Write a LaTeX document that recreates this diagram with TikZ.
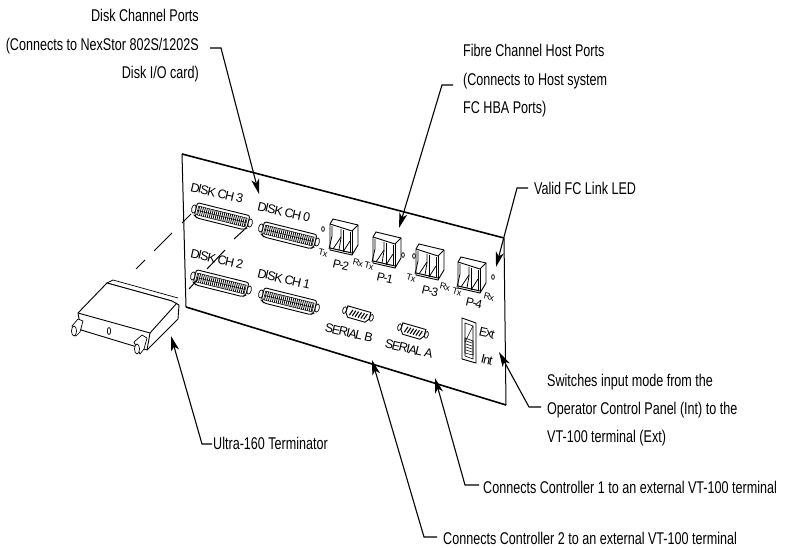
\documentclass[tikz,border=0pt]{standalone}
\usepackage{fontspec}
\setmainfont{Liberation Sans}[FakeStretch=0.74]
\newfontfamily\plainfont{Liberation Sans}[LetterSpace=-10]
\usetikzlibrary{arrows.meta}
\tikzset{
  lbl/.style={inner sep=0pt,font=\fontsize{17}{28.4}\selectfont},
  plbl/.style={inner sep=0pt,rotate=-13,font=\plainfont\fontsize{12.5}{16}\selectfont},
  portlbl/.style={plbl,font=\plainfont\fontsize{12}{15}\selectfont},
  tiny/.style={plbl,font=\plainfont\fontsize{9}{12}\selectfont},
  leader/.style={line width=1.1pt,-{Stealth[length=15pt,width=8pt,inset=4pt]}},
  edge/.style={line width=1.6pt},
  part/.style={line width=0.7pt,fill=white},
  dashline/.style={line width=1pt},
  scsi/.pic={
    \draw[part] (-29,0) ellipse (2.2 and 4.2);
    \draw[part] (29,0) ellipse (2.2 and 4.2);
    \draw[part,rounded corners=2pt,line width=0.9pt] (-27,-7) -- (27,-7) -- (27,6) -- (24,8) -- (-24,8) -- (-27,6) -- cycle;
    \draw[line width=0.5pt] (-25,-4) rectangle (25,5);
    \foreach \i in {-24,-22,...,24} \draw[line width=0.75pt] (\i,-4) -- (\i,5);
    \draw[line width=0.5pt] (-25,0.5) -- (25,0.5);
  },
  lcport/.pic={
    \draw[part,line width=0.9pt] (0,0) -- (3,-5) -- (28,1) -- (28,21) -- (22,31) -- (0,26) -- cycle;
    \draw[line width=0.9pt] (0,0) -- (22,7) -- (28,1);
    \draw[line width=1pt] (22,7) -- (22,31);
    \draw[line width=0.8pt] (-1,25) -- (2,12) -- (2,2);
    \draw[line width=0.8pt] (9,26) -- (11,14) -- (11,5);
    \draw[line width=0.8pt] (13,28) -- (13,6);
    \draw[line width=0.8pt] (20,29) -- (20,8);
    \draw[line width=0.8pt] (3,25) -- (11,13) (13,28) -- (20,17);
    \draw[line width=1pt] (0,24) -- (22,29);
  },
  dsub/.pic={
    \draw[part] (-14,0) ellipse (1.8 and 3.5);
    \draw[part] (14,0) ellipse (1.8 and 3.5);
    \draw[part,line width=0.9pt] (-12,-5) -- (12,-5) -- (12,2) -- (9,6) -- (-9,6) -- (-12,2) -- cycle;
    \foreach \i in {-7,-4,...,8} \draw[line width=1.1pt] (\i+1,-2.5) -- (\i-1,3.5);
  }
}
\begin{document}
\begin{tikzpicture}[x=1pt,y=-1pt]
\useasboundingbox (0,0) rectangle (785,548);
% rear panel
\draw[edge] (504,238) -- (182,154);
\draw[line width=1pt] (182,154) -- (186,307);
\draw[edge] (186,307) -- (506,405);
\draw[line width=1pt] (506,405) -- (504,238);
% disk connectors
\pic[rotate=-14] at (222,216) {scsi};
\pic[rotate=-14] at (289,235) {scsi};
\pic[rotate=-14] at (221,283) {scsi};
\pic[rotate=-14] at (289,301) {scsi};
\node[plbl] (ch3) at (217,193) {DISK CH 3};
\node[plbl] (ch0) at (284,212) {DISK CH 0};
\node[plbl] (ch2) at (217,259) {DISK CH 2};
\node[plbl] (ch1) at (284,279) {DISK CH 1};
% host ports
\pic at (330,224) {lcport};
\pic at (373,237) {lcport};
\pic at (416,249) {lcport};
\pic at (458,262) {lcport};
\node[portlbl] (p2) at (341,265) {P-2};
\node[portlbl] (p1) at (385,278) {P-1};
\node[portlbl] (p3) at (430,291) {P-3};
\node[portlbl] (p4) at (474,303) {P-4};
\node[tiny] (tx2) at (323,253) {Tx};
\node[tiny] (rx2) at (358,263) {Rx};
\node[tiny] (tx1) at (369,266) {Tx};
\node[tiny] (tx3) at (411,278) {Tx};
\node[tiny] (rx3) at (445,287) {Rx};
\node[tiny] (tx4) at (457,292) {Tx};
\node[tiny] (rx4) at (489,297) {Rx};
% leds
\draw[line width=0.7pt] (323,229) ellipse (1.4 and 2.4);
\draw[line width=0.7pt] (403,255) ellipse (1.4 and 2.4);
\draw[line width=0.7pt] (414,256) ellipse (1.4 and 2.4);
\draw[line width=0.7pt] (493,277) ellipse (1.4 and 2.4);
% serial ports
\pic[rotate=-16] at (358,314) {dsub};
\pic[rotate=-16] at (413,331) {dsub};
\node[plbl] (serb) at (349,333) {SERIAL B};
\node[plbl] (sera) at (409,349) {SERIAL A};
% mode switch
\draw[line width=0.9pt] (462,318) -- (476,323) -- (476,363) -- (462,359) -- cycle;
\draw[line width=0.6pt] (465,323) -- (473,326) -- (473,359) -- (465,356) -- cycle;
\draw[line width=0.6pt] (465,342) -- (473,326);
\draw[line width=0.6pt] (465,338) -- (473,341) -- (473,355) -- (465,353) -- cycle;
\foreach \y in {341,344,347,350} \draw[line width=0.6pt] (466,\y) -- (472,\y+2);
\node[plbl] (ext) at (487,333) {Ext};
\node[plbl] (int) at (487,360) {Int};
% terminator
\draw[part] (178,298) -- (113,280) -- (107,283) -- (172,301);
\draw[part,line width=0.9pt] (107,283) -- (78,313) -- (81,330) -- (147,350) -- (178,319) -- (179,305) -- (172,301) -- cycle;
\draw[line width=0.9pt] (78,313) -- (150,333) -- (177,303);
\draw[line width=0.9pt] (150,333) -- (147,350);
\draw[part] (109,331) ellipse (1.7 and 3.5);
\draw[part] (72,326) -- (78,319) -- (83,321) -- (80,332) -- (76,336) -- cycle;
\draw[part] (74,331) ellipse (2.5 and 5);
\draw[part] (134,342) -- (142,335) -- (147,338) -- (144,349) -- (140,354) -- cycle;
\draw[part] (137,349) ellipse (2.5 and 5);
% dashed projection
\foreach \a/\b/\c/\d in {136/269/145/260,154/251/172/233,182/223/191/214,207/269/225/250,189/289/198/279,234/239/244/230}
  \draw[dashline] (\a,\b) -- (\c,\d);
% callouts
\node[lbl,align=right,anchor=east] (disklbl) at (199,46) {Disk Channel Ports\\(Connects to NexStor 802S/1202S\\Disk I/O card)};
\node[lbl,align=left,anchor=west] (fibrelbl) at (463,81) {Fibre Channel Host Ports\\(Connects to Host system\\FC HBA Ports)};
\node[lbl,anchor=west] (ledlbl) at (534,188) {Valid FC Link LED};
\node[lbl,align=left,anchor=west] (modelbl) at (547,410) {Switches input mode from the\\Operator Control Panel (Int) to the\\VT-100 terminal (Ext)};
\node[lbl,anchor=west] (ctrl1lbl) at (483,487) {Connects Controller 1 to an external VT-100 terminal};
\node[lbl,anchor=west] (ctrl2lbl) at (443,538) {Connects Controller 2 to an external VT-100 terminal};
\node[lbl,anchor=west] (termlbl) at (213,443) {Ultra-160 Terminator};
\coordinate (diskbend) at (221,48);
\coordinate (disktip) at (259,194);
\coordinate (fibrebend) at (442,85);
\coordinate (fibretip) at (399,228);
\coordinate (ledbend) at (517,188);
\coordinate (ledtip) at (496,267);
\coordinate (modebend) at (529,407);
\coordinate (modetip) at (499,352);
\coordinate (ctrl1bend) at (465,485);
\coordinate (ctrl1tip) at (435,378);
\coordinate (ctrl2bend) at (424,537);
\coordinate (ctrl2tip) at (372,360);
\coordinate (termbend) at (202,444);
\coordinate (termtip) at (171,336);
\draw[leader] (210,48) -- (diskbend) -- (disktip);
\draw[leader] (453,85) -- (fibrebend) -- (fibretip);
\draw[leader] (528,188) -- (ledbend) -- (ledtip);
\draw[leader] (541,407) -- (modebend) -- (modetip);
\draw[leader] (479,485) -- (ctrl1bend) -- (ctrl1tip);
\draw[leader] (437,537) -- (ctrl2bend) -- (ctrl2tip);
\draw[leader] (212,444) -- (termbend) -- (termtip);
\end{tikzpicture}
\end{document}
